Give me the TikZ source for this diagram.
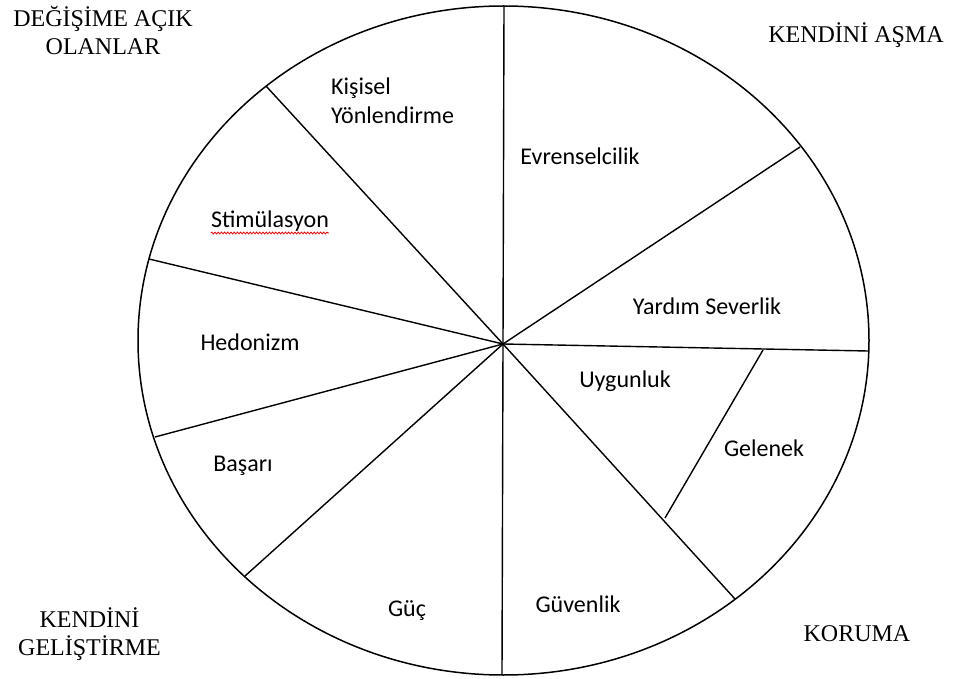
\documentclass[tikz,border=0pt]{standalone}
\usepackage{fontspec}
\setmainfont{Liberation Serif}
\newfontfamily\lblfont{Carlito}
\usetikzlibrary{decorations.pathmorphing}
\tikzset{
  rim/.style={draw=black, line width=1.5pt},
  spoke/.style={draw=black, line width=1.4pt},
  val/.style={font=\lblfont\fontsize{24}{28}\selectfont, inner sep=0pt, anchor=base},
  vall/.style={val, anchor=base west},
  grp/.style={font=\fontsize{24}{28}\selectfont, inner sep=0pt, anchor=base, align=center},
  spell/.style={draw=red!85!black, line width=0.8pt, decorate, decoration={snake, amplitude=0.9pt, segment length=3.2pt}}
}
\begin{document}
\begin{tikzpicture}[x=1pt,y=-1pt]
\useasboundingbox (0,0) rectangle (954,679);
% rim
\draw[rim] (503.5,340.5) ellipse [x radius=365.5, y radius=334.5];
% hub and spoke ends
\coordinate (hub) at (503,344);
\coordinate (pTop) at (504,6);
\coordinate (pBot) at (502,675);
\coordinate (pUL) at (266,86);
\coordinate (pUR) at (800,147);
\coordinate (pR) at (868,351);
\coordinate (pLU) at (149,259);
\coordinate (pLL) at (155,437);
\coordinate (pBL) at (245,576);
\coordinate (pBR) at (735,599);
\coordinate (gA) at (763,350);
\coordinate (gB) at (665,518);
\draw[spoke] (hub) -- (pTop);
\draw[spoke] (hub) -- (pBot);
\draw[spoke] (hub) -- (pUL);
\draw[spoke] (hub) -- (pUR);
\draw[spoke] (hub) -- (pR);
\draw[spoke] (hub) -- (pLU);
\draw[spoke] (hub) -- (pLL);
\draw[spoke] (hub) -- (pBL);
\draw[spoke] (hub) -- (pBR);
\draw[spoke] (gA) -- (gB);
% value labels
\node[vall] (kis) at (331,95) {Kişisel};
\node[vall] (yon) at (331,124) {Yönlendirme};
\node[val] (evr) at (580,165) {Evrenselcilik};
\node[val] (sti) at (270,228) {Stimülasyon};
\draw[spell] (sti.base west) ++(0,5) coordinate (sw) -- (sw -| sti.base east);
\node[val] (yar) at (707,315) {Yardım Severlik};
\node[val] (hed) at (250,351) {Hedonizm};
\node[val] (uyg) at (625,388) {Uygunluk};
\node[val] (gel) at (764,456) {Gelenek};
\node[val] (bas) at (243,471) {Başarı};
\node[val] (guv) at (578,612) {Güvenlik};
\node[val] (guc) at (407,616) {Güç};
% group labels
\node[grp] (g1) at (103,27) {DEĞİŞİME AÇIK};
\node[grp] (g1b) at (103,55) {OLANLAR};
\node[grp] (g2) at (856,43) {KENDİNİ AŞMA};
\node[grp] (g3) at (89.5,627) {KENDİNİ};
\node[grp] (g3b) at (89.5,655) {GELİŞTİRME};
\node[grp] (g4) at (857,641) {KORUMA};
\end{tikzpicture}
\end{document}
